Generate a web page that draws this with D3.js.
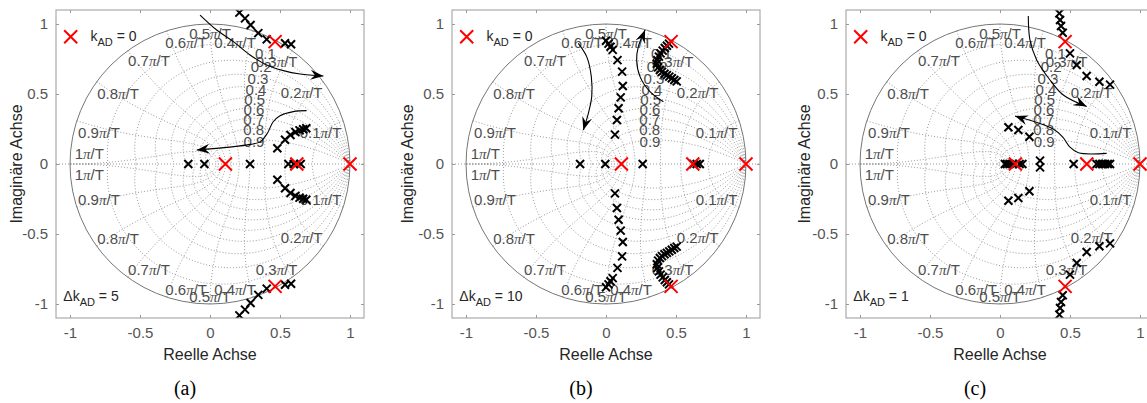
<!DOCTYPE html>
<html><head><meta charset="utf-8">
<script src="https://cdn.jsdelivr.net/npm/d3@7"></script>
<style>
body{margin:0;background:#fff}
svg{display:block;font-family:"Liberation Sans",Arial,Helvetica,sans-serif}
</style>
</head><body>
<svg id="chart" width="1147" height="403"></svg>
<script>
// ---------- data ----------
const tickValues = [-1, -0.5, 0, 0.5, 1];
const zetaLabels = ["0.1","0.2","0.3","0.4","0.5","0.6","0.7","0.8","0.9"];
const wnLabels = ["0.1","0.2","0.3","0.4","0.5","0.6","0.7","0.8","0.9","1"];
const panelNames = ["(a)", "(b)", "(c)"];
const deltaK = ["5", "10", "1"];

// open-loop poles (k_AD = 0)
const poles = [[0.11,0],[0.62,0],[1,0],[0.465,0.874],[0.465,-0.874]];

// closed-loop roots: real ones and upper half (lower half = conjugates)
const rootsA_real = [-0.155, -0.04, 0.286, 0.56, 0.598, 0.648];
const rootsA_upper = [[0.21,1.081],[0.25,1.04],[0.29,0.993],[0.345,0.935],[0.405,0.89],[0.536,0.862],[0.579,0.855],
  [0.481,0.112],[0.536,0.173],[0.575,0.207],[0.61,0.228],[0.64,0.24],[0.665,0.248],[0.688,0.255]];

const rootsB_real = [-0.185, -0.005, 0.262, 0.625, 0.648, 0.67];
const rootsB_upper = [[0.0,0.88],[0.018,0.86],[0.032,0.838],[0.048,0.815],[0.082,0.742],[0.115,0.66],[0.12,0.557],
  [0.105,0.476],[0.09,0.398],[0.078,0.314],[0.064,0.21],
  [0.45,0.86],[0.435,0.845],[0.42,0.828],[0.405,0.81],[0.39,0.79],[0.378,0.767],[0.367,0.742],[0.363,0.716],
  [0.372,0.69],[0.385,0.672],[0.4,0.658],[0.418,0.645],[0.435,0.635],[0.452,0.624],[0.47,0.613],[0.488,0.6],[0.505,0.59]];

const rootsC_real = [0.035, 0.05, 0.068, 0.09, 0.14, 0.16, 0.526, 0.69, 0.71, 0.73, 0.75, 0.77, 0.786];
const rootsC_upper = [[0.424,1.076],[0.429,1.029],[0.436,0.986],[0.448,0.938],[0.5,0.79],[0.548,0.707],[0.619,0.629],
  [0.71,0.588],[0.786,0.567],[0.06,0.262],[0.131,0.243],[0.21,0.195],[0.286,0.024]];

// annotation arrows (path points, arrowhead at last point)
const arrowsA = [
  [[-0.071,1.064],[0.048,0.957],[0.167,0.874],[0.286,0.779],[0.405,0.707],[0.524,0.667],[0.643,0.643],[0.81,0.629]],
  [[0.69,0.381],[0.595,0.374],[0.5,0.345],[0.45,0.3],[0.41,0.22],[0.36,0.16],[0.29,0.14],[-0.095,0.1]]
];
const arrowsB = [
  [[-0.198,0.862],[-0.138,0.767],[-0.105,0.624],[-0.102,0.481],[-0.126,0.362],[-0.162,0.243]],
  [[0.41,0.445],[0.314,0.517],[0.243,0.624],[0.219,0.743],[0.231,0.838],[0.279,0.957]]
];
const arrowsC = [
  [[0.202,1.057],[0.214,0.886],[0.262,0.743],[0.357,0.6],[0.452,0.493],[0.619,0.41]],
  [[0.762,0.076],[0.56,0.08],[0.5,0.12],[0.45,0.19],[0.38,0.25],[0.107,0.343]]
];

const panels = [
  {real: rootsA_real, upper: rootsA_upper, arrows: arrowsA, dk: deltaK[0], name: panelNames[0]},
  {real: rootsB_real, upper: rootsB_upper, arrows: arrowsB, dk: deltaK[1], name: panelNames[1]},
  {real: rootsC_real, upper: rootsC_upper, arrows: arrowsC, dk: deltaK[2], name: panelNames[2]}
];

// ---------- layout ----------
const lefts = [56, 452, 846];
const plotTop = 10, size = 308;
const yLabelX = [21.5, 413, 810];
const GRID = "#7d7d7d", BOX = "#9a9a9a", TICKTXT = "#555", LBL = "#262626", GRIDTXT = "#4d4d4d";
const SANS = "'Liberation Sans', Arial, Helvetica, sans-serif";
const SERIF = "'Liberation Serif', 'Times New Roman', serif";
// wn label layout: x centre, centre y (upper), centre y (lower)
const wnPos = [[0.79,0.224,-0.252],[0.655,0.509,-0.524],[0.476,0.731,-0.752],[0.179,0.866,-0.895],[0,0.933,-0.948],
  [-0.17,0.866,-0.895],[-0.436,0.736,-0.757],[-0.657,0.505,-0.531],[-0.793,0.22,-0.252],[-0.862,0.074,-0.078]];

const svg = d3.select("#chart");
const defs = svg.append("defs");

function xMark(g, px, py, s, color, w) {
  g.append("path")
    .attr("d", `M${px-s},${py-s}L${px+s},${py+s}M${px-s},${py+s}L${px+s},${py-s}`)
    .attr("stroke", color).attr("stroke-width", w).attr("fill", "none");
}

function piLabel(g, px, py, num, fs) {
  const t = g.append("text").attr("x", px).attr("y", py).attr("dy", "0.35em")
    .attr("text-anchor", "middle").style("font-size", fs + "px").style("font-family", SANS).attr("fill", GRIDTXT);
  t.append("tspan").text(num);
  t.append("tspan").style("font-family", SERIF).style("font-style", "italic").text("π");
  t.append("tspan").text("/T");
}

panels.forEach((p, i) => {
  const L = lefts[i];
  const x = d3.scaleLinear().domain([-1.1, 1.1]).range([L, L + size]);
  const y = d3.scaleLinear().domain([-1.1, 1.1]).range([plotTop + size, plotTop]);
  const line = d3.line().x(d => x(d[0])).y(d => y(d[1]));
  const g = svg.append("g");

  defs.append("clipPath").attr("id", "clip" + i)
    .append("rect").attr("x", L).attr("y", plotTop).attr("width", size).attr("height", size);
  const gp = g.append("g").attr("clip-path", `url(#clip${i})`);

  // --- z-plane grid ---
  const gridG = gp.append("g").attr("fill", "none").attr("stroke", GRID)
    .attr("stroke-width", 0.8).attr("stroke-dasharray", "1,2");
  gridG.append("path").attr("d", line([[-1.1, 0], [1.1, 0]]));
  zetaLabels.map(Number).forEach(z => {
    const pts = d3.range(0, 241).map(k => {
      const th = Math.PI * k / 240;
      const r = Math.exp(-z / Math.sqrt(1 - z * z) * th);
      return [r * Math.cos(th), r * Math.sin(th)];
    });
    gridG.append("path").attr("d", line(pts));
    gridG.append("path").attr("d", line(pts.map(d => [d[0], -d[1]])));
  });
  wnLabels.map(Number).forEach(f => {
    const w = f * Math.PI;
    const pts = d3.range(0, 121).map(k => {
      const z = k / 120;
      const r = Math.exp(-z * w), th = w * Math.sqrt(1 - z * z);
      return [r * Math.cos(th), r * Math.sin(th)];
    });
    gridG.append("path").attr("d", line(pts));
    gridG.append("path").attr("d", line(pts.map(d => [d[0], -d[1]])));
  });
  gp.append("circle").attr("cx", x(0)).attr("cy", y(0)).attr("r", x(1) - x(0))
    .attr("fill", "none").attr("stroke", "#666").attr("stroke-width", 0.9);

  // grid labels
  zetaLabels.forEach(s => {
    const z = +s, w = 1.1;
    const r = Math.exp(-z * w), th = w * Math.sqrt(1 - z * z);
    gp.append("text").attr("x", x(r * Math.cos(th) - 0.015)).attr("y", y(r * Math.sin(th) - 0.012))
      .attr("dy", "0.35em").attr("text-anchor", "middle").style("font-size", "15px").style("font-family", SANS)
      .attr("fill", GRIDTXT).text(s);
  });
  wnLabels.forEach((s, k) => {
    const pos = wnPos[k];
    piLabel(gp, x(pos[0]), y(pos[1]), s, 15);
    piLabel(gp, x(pos[0]), y(pos[2]), s, 15);
  });

  // --- roots ---
  const marks = gp.append("g");
  p.real.forEach(v => xMark(marks, x(v), y(0), 4, "#000", 2));
  p.upper.forEach(d => {
    xMark(marks, x(d[0]), y(d[1]), 4, "#000", 2);
    xMark(marks, x(d[0]), y(-d[1]), 4, "#000", 2);
  });
  poles.forEach(d => xMark(marks, x(d[0]), y(d[1]), 6.5, "#ff0000", 2));

  // --- arrows ---
  p.arrows.forEach(a => {
    const pts = a.map(d => [x(d[0]), y(d[1])]);
    g.append("path").attr("d", d3.line().curve(d3.curveCatmullRom.alpha(0.5))(pts))
      .attr("fill", "none").attr("stroke", "#000").attr("stroke-width", 1.1);
    const [x1, y1] = pts[pts.length - 2], [x2, y2] = pts[pts.length - 1];
    const len = Math.hypot(x2 - x1, y2 - y1), ux = (x2 - x1) / len, uy = (y2 - y1) / len;
    const Lh = 13, Wh = 5;
    const bx = x2 - Lh * ux, by = y2 - Lh * uy;
    const nx = x2 - 0.65 * Lh * ux, ny = y2 - 0.65 * Lh * uy;
    g.append("path")
      .attr("d", `M${x2},${y2}L${bx - Wh * uy},${by + Wh * ux}L${nx},${ny}L${bx + Wh * uy},${by - Wh * ux}Z`)
      .attr("fill", "#000");
  });

  // --- axes box and ticks ---
  const ax = g.append("g").attr("color", BOX);
  const fmt = d => String(d);
  const styleTicks = s => s.selectAll("text").attr("fill", TICKTXT).style("font-size", "15px").style("font-family", SANS);
  ax.append("g").attr("transform", `translate(0,${plotTop + size})`)
    .call(d3.axisBottom(x).tickValues(tickValues).tickSizeInner(-3).tickSizeOuter(0).tickPadding(9).tickFormat(fmt))
    .call(s => s.select(".domain").remove()).call(styleTicks);
  ax.append("g").attr("transform", `translate(0,${plotTop})`)
    .call(d3.axisTop(x).tickValues(tickValues).tickSizeInner(-3).tickSizeOuter(0).tickFormat(""))
    .call(s => s.select(".domain").remove());
  ax.append("g").attr("transform", `translate(${L},0)`)
    .call(d3.axisLeft(y).tickValues(tickValues).tickSizeInner(-3).tickSizeOuter(0).tickPadding(8).tickFormat(fmt))
    .call(s => s.select(".domain").remove()).call(styleTicks);
  ax.append("g").attr("transform", `translate(${L + size},0)`)
    .call(d3.axisRight(y).tickValues(tickValues).tickSizeInner(-3).tickSizeOuter(0).tickFormat(""))
    .call(s => s.select(".domain").remove());
  g.append("rect").attr("x", L).attr("y", plotTop).attr("width", size).attr("height", size)
    .attr("fill", "none").attr("stroke", BOX).attr("stroke-width", 1);

  // --- axis labels ---
  g.append("text").attr("x", x(0)).attr("y", 360).attr("text-anchor", "middle")
    .style("font-size", "16px").style("font-family", SANS).attr("fill", LBL).text("Reelle Achse");
  g.append("text").attr("transform", `translate(${yLabelX[i]},${y(0)}) rotate(-90)`).attr("text-anchor", "middle")
    .style("font-size", "16px").style("font-family", SANS).attr("fill", LBL).text("Imaginäre Achse");

  // --- legend ---
  xMark(g, L + 14.7, 36.7, 6.5, "#ff0000", 2);
  const lt = g.append("text").attr("x", L + 34.5).attr("y", 41).style("font-size", "14px").style("font-family", SANS).attr("fill", LBL);
  lt.append("tspan").text("k");
  lt.append("tspan").style("font-size", "11px").attr("dy", 5).text("AD");
  lt.append("tspan").attr("dy", -5).text(" = 0");

  // --- delta k annotation ---
  const dt = g.append("text").attr("x", L + 7.3).attr("y", 301).style("font-size", "14px").style("font-family", SANS).attr("fill", LBL);
  dt.append("tspan").text("Δk");
  dt.append("tspan").style("font-size", "11px").attr("dy", 5).text("AD");
  dt.append("tspan").attr("dy", -5).text(" = " + p.dk);

  // --- caption ---
  svg.append("text").attr("x", x(0) - 25).attr("y", 395).attr("text-anchor", "middle")
    .style("font-family", SERIF).style("font-size", "20px").attr("fill", "#000")
    .text(p.name);
});
</script>
</body></html>
